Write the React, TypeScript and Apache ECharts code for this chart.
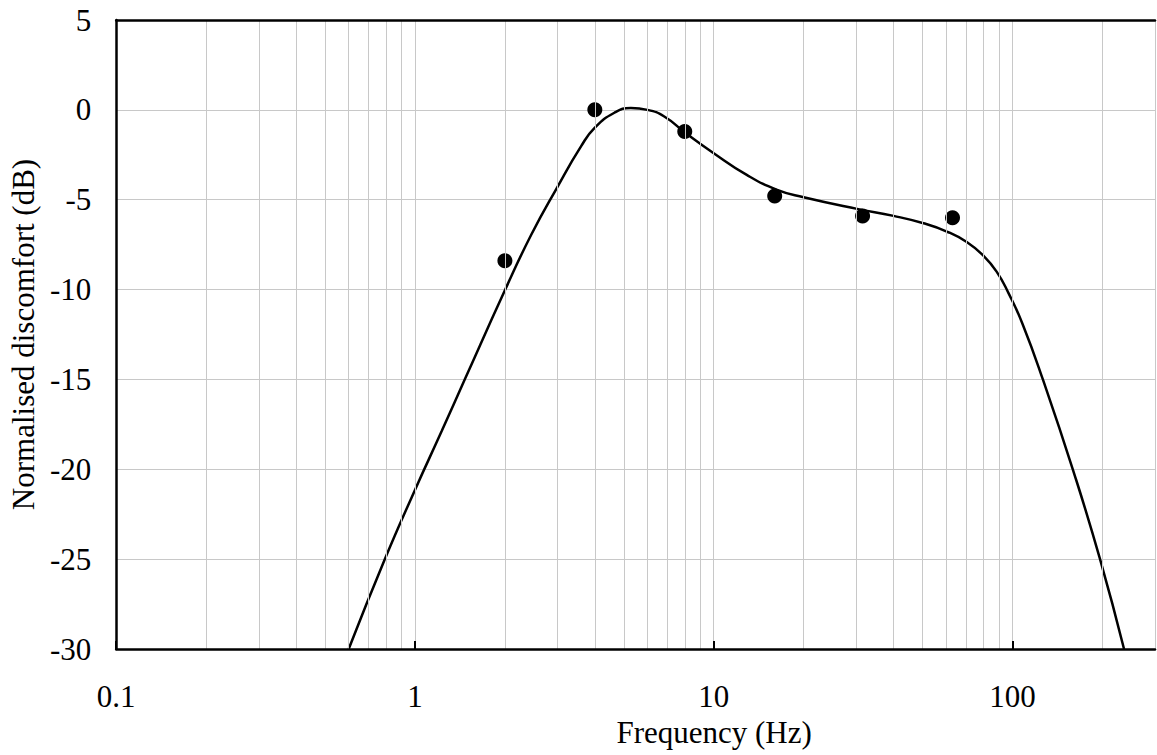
import React, { useEffect, useRef } from "react";
import * as echarts from "echarts";

// Fitted weighting curve (frequency in Hz, normalised discomfort in dB)
const curveFreq = [0.6, 0.79, 1.0, 1.23, 1.47, 2.0, 2.45, 3.0, 3.6, 4.0, 4.65, 5.28, 6.0, 6.83, 8.0, 10, 12.9, 16.3, 20, 30.2, 40, 50.4, 60.3, 70.3, 79.8, 88.5, 97, 108, 126.4, 159.2, 196.4, 236.3];
const curveDb = [-30, -25.06, -21.15, -17.86, -14.98, -10.04, -6.95, -4.28, -2.02, -0.99, -0.16, 0.1, 0.0, -0.37, -1.25, -2.41, -3.62, -4.45, -4.86, -5.51, -5.9, -6.31, -6.77, -7.35, -8.1, -9.0, -10.2, -11.9, -15.0, -20.0, -25.0, -30];

// Measured points
const pointFreq = [2, 4, 8, 16, 31.5, 63];
const pointDb = [-8.4, 0, -1.2, -4.8, -5.9, -6.0];

// Vertical (log) grid lines
const vGrid = [0.2, 0.3, 0.4, 0.5, 0.6, 0.7, 0.8, 0.9, 1, 2, 3, 4, 5, 6, 7, 8, 9, 10, 20, 30, 40, 50, 60, 70, 80, 90, 100, 200, 300];

const xMin = 0.1;
const xMax = 300;
const yMin = -30;
const yMax = 5;
const yStep = 5;

const FONT = "Liberation Serif, Times New Roman, serif";

export default function App() {
  const ref = useRef<HTMLDivElement>(null);

  useEffect(() => {
    if (!ref.current) return;
    const chart = echarts.init(ref.current, null, { renderer: "svg" });
    const curveData = curveFreq.map((f, i) => [f, curveDb[i]]);
    const pointData = pointFreq.map((f, i) => [f, pointDb[i]]);

    chart.setOption({
      animation: false,
      backgroundColor: "#ffffff",
      textStyle: { fontFamily: FONT },
      grid: { left: 114, right: 2, top: 20, bottom: 106, containLabel: false },
      xAxis: [
        {
          type: "log",
          logBase: 10,
          min: xMin,
          max: xMax,
          position: "bottom",
          z: 5,
          name: "Frequency (Hz)",
          nameLocation: "middle",
          nameGap: 64,
          nameTextStyle: { fontFamily: FONT, fontSize: 31, color: "#000", padding: [0, 0, 0, 157] },
          axisLine: { show: true, onZero: false, lineStyle: { color: "#000", width: 2.5 } },
          axisTick: { show: true, inside: true, length: 8, lineStyle: { color: "#000", width: 2 } },
          axisLabel: {
            fontFamily: FONT,
            fontSize: 31,
            color: "#000",
            margin: 32,
            showMaxLabel: false,
            formatter: (v: number) => String(v),
          },
          splitLine: { show: false },
          minorTick: { show: false },
        },
        {
          type: "log",
          logBase: 10,
          min: xMin,
          max: xMax,
          position: "top",
          z: 5,
          axisLine: { show: true, onZero: false, lineStyle: { color: "#000", width: 2.5 } },
          axisTick: { show: false },
          axisLabel: { show: false },
          splitLine: { show: false },
        },
      ],
      yAxis: {
        type: "value",
        min: yMin,
        max: yMax,
        interval: yStep,
        name: "Normalised discomfort (dB)",
        nameLocation: "middle",
        nameGap: 74,
        nameTextStyle: { fontFamily: FONT, fontSize: 31, color: "#000" },
        axisLine: { show: true, onZero: false, lineStyle: { color: "#000", width: 2.5 } },
        axisTick: { show: false },
        axisLabel: { fontFamily: FONT, fontSize: 31, color: "#000", margin: 25 },
        splitLine: { show: true, lineStyle: { color: "#c8c8c8", width: 1 } },
      },
      series: [
        {
          type: "line",
          data: [],
          z: 1,
          silent: true,
          markLine: {
            silent: true,
            symbol: ["none", "none"],
            label: { show: false },
            lineStyle: { color: "#c8c8c8", width: 1, type: "solid" },
            emphasis: { disabled: true },
            data: vGrid.map((v) => ({ xAxis: v })),
          },
        },
        {
          type: "line",
          data: curveData,
          smooth: 0.5,
          showSymbol: false,
          symbol: "none",
          z: 3,
          lineStyle: { color: "#000", width: 2.5 },
        },
        {
          type: "scatter",
          data: pointData,
          symbol: "circle",
          symbolSize: 15,
          z: 4,
          itemStyle: { color: "#000", opacity: 1 },
        },
      ],
    });
    return () => chart.dispose();
  }, []);

  return (
    <div
      ref={ref}
      style={{ position: "fixed", left: 0, top: 0, width: 1157, height: 755, background: "#fff" }}
    />
  );
}
